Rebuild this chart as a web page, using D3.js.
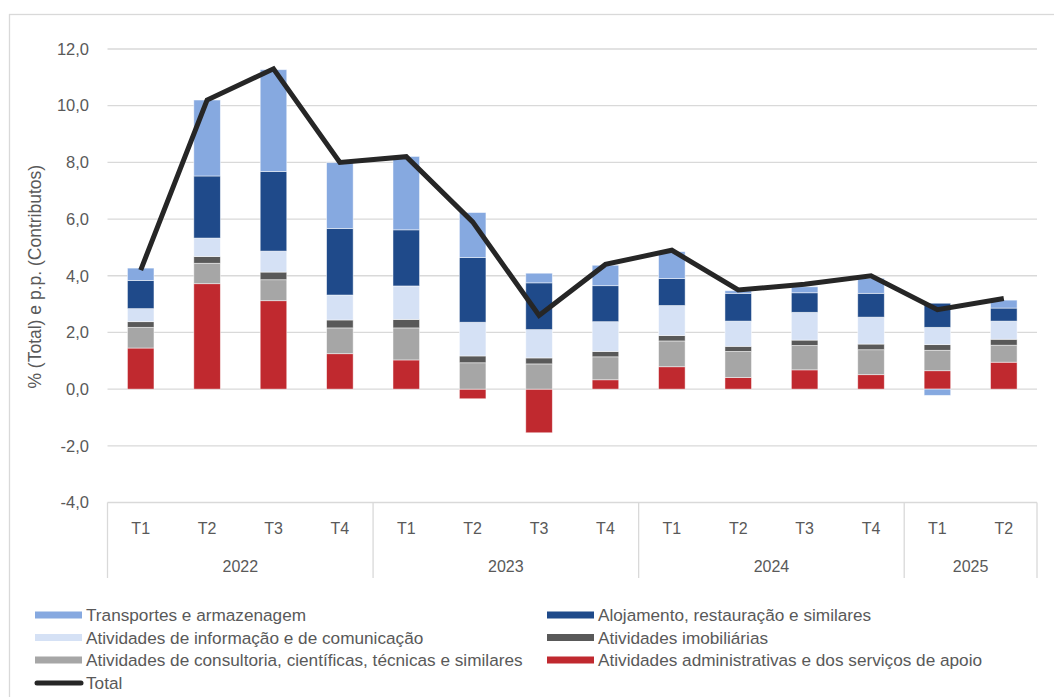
<html>
<meta charset="utf-8">
<style>
body { margin: 0; background: #fff; }
text { font-family: "Liberation Sans", Arial, sans-serif; fill: #595959; }
.grid line { stroke: #d9d9d9; stroke-width: 1.3px; }
.line { fill: none; stroke: #262626; stroke-width: 5px; stroke-linejoin: miter; }
</style>
<body>
<script src="https://d3js.org/d3.v7.min.js"></script>
<script>

// quarters and years on the category axis
var quarters = ["T1","T2","T3","T4","T1","T2","T3","T4","T1","T2","T3","T4","T1","T2"];
var years = ["2022","2023","2024","2025"];
var yearSpan = [4, 4, 4, 2];

// contributions (p.p.)
var admin   = [1.45, 3.72, 3.12, 1.25, 1.03, -0.34, -1.54, 0.33, 0.79, 0.41, 0.68, 0.51, 0.65, 0.95];
var consult = [0.73, 0.72, 0.74, 0.91, 1.13, 0.93, 0.89, 0.81, 0.91, 0.92, 0.86, 0.88, 0.72, 0.60];
var imob    = [0.20, 0.24, 0.27, 0.28, 0.30, 0.24, 0.21, 0.19, 0.19, 0.18, 0.19, 0.20, 0.20, 0.21];
var info    = [0.46, 0.65, 0.74, 0.88, 1.18, 1.19, 1.00, 1.05, 1.06, 0.89, 0.98, 0.95, 0.61, 0.64];
var aloj    = [0.99, 2.19, 2.81, 2.35, 1.98, 2.28, 1.65, 1.27, 0.95, 0.98, 0.69, 0.84, 0.85, 0.46];
var transp  = [0.44, 2.68, 3.59, 2.32, 2.59, 1.59, 0.34, 0.72, 0.95, 0.09, 0.21, 0.53, -0.22, 0.28];

// total (%)
var total = [4.2, 10.2, 11.3, 8.0, 8.2, 5.9, 2.6, 4.4, 4.9, 3.5, 3.7, 4.0, 2.8, 3.2];

var yTicks = [-4, -2, 0, 2, 4, 6, 8, 10, 12];

// series, bottom to top of the stack
var series = [
  {key: "admin",   name: "Atividades administrativas e dos serviços de apoio", color: "#c0292f", values: admin},
  {key: "consult", name: "Atividades de consultoria, científicas, técnicas e similares", color: "#a6a6a6", values: consult},
  {key: "imob",    name: "Atividades imobiliárias", color: "#595959", values: imob},
  {key: "info",    name: "Atividades de informação e de comunicação", color: "#d5e1f5", values: info},
  {key: "aloj",    name: "Alojamento, restauração e similares", color: "#1f4a8a", values: aloj},
  {key: "transp",  name: "Transportes e armazenagem", color: "#86a9e0", values: transp}
];
var colorOf = {};
series.forEach(function(s) { colorOf[s.key] = s.color; });

// build rows for d3.stack
var rows = quarters.map(function(q, i) {
  var r = {i: i};
  series.forEach(function(s) { r[s.key] = s.values[i]; });
  return r;
});

var W = 1054, H = 697;
var plot = {left: 107.5, right: 1037, top: 49, bottom: 502.5};

var svg = d3.select("body").append("svg")
    .attr("width", W)
    .attr("height", H);

// chart border
svg.append("rect")
    .attr("x", 9.5).attr("y", 14.5)
    .attr("width", 1050).attr("height", 700)
    .attr("fill", "none").attr("stroke", "#d9d9d9").attr("stroke-width", 1.3);

var x = d3.scaleBand()
    .domain(d3.range(quarters.length))
    .range([plot.left, plot.right]);

var y = d3.scaleLinear()
    .domain([-4, 12])
    .range([plot.bottom, plot.top]);

// gridlines
svg.append("g").attr("class", "grid")
  .selectAll("line").data(yTicks).enter().append("line")
    .attr("x1", plot.left).attr("x2", plot.right)
    .attr("y1", function(d) { return y(d); })
    .attr("y2", function(d) { return y(d); });

// y tick labels
var fmt = function(d) { return d3.format(".1f")(d).replace(".", ",").replace("−", "-"); };
svg.append("g").selectAll("text").data(yTicks).enter().append("text")
    .attr("x", 89)
    .attr("y", function(d) { return y(d); })
    .attr("dy", "0.35em")
    .attr("text-anchor", "end")
    .style("font-size", "16.5px")
    .text(fmt);

// y title
svg.append("text")
    .attr("transform", "translate(41," + ((plot.top + plot.bottom) / 2 + 1) + ") rotate(-90)")
    .attr("text-anchor", "middle")
    .style("font-size", "17.5px")
    .text("% (Total) e p.p. (Contributos)");

// stacked bars
var stack = d3.stack()
    .keys(series.map(function(s) { return s.key; }))
    .offset(d3.stackOffsetDiverging);
var stacked = stack(rows);

var bw = x.bandwidth() * 0.4;
svg.append("g").selectAll("g").data(stacked).enter().append("g")
    .attr("fill", function(d) { return colorOf[d.key]; })
  .selectAll("rect").data(function(d) { return d; }).enter().append("rect")
    .attr("x", function(d) { return x(d.data.i) + (x.bandwidth() - bw) / 2; })
    .attr("width", bw)
    .attr("y", function(d) { return y(Math.max(d[0], d[1])); })
    .attr("height", function(d) { return Math.abs(y(d[0]) - y(d[1])); })
    .attr("stroke", "#ffffff")
    .attr("stroke-opacity", 0.6)
    .attr("stroke-width", 0.8);

// total line
var valueline = d3.line()
    .x(function(d, i) { return x(i) + x.bandwidth() / 2; })
    .y(function(d) { return y(d); });

svg.append("path")
    .data([total])
    .attr("class", "line")
    .attr("d", valueline);

// category axis: quarter labels
var axisG = svg.append("g");
axisG.selectAll("text.q").data(quarters).enter().append("text")
    .attr("class", "q")
    .attr("x", function(d, i) { return x(i) + x.bandwidth() / 2; })
    .attr("y", 528)
    .attr("dy", "0.35em")
    .attr("text-anchor", "middle")
    .style("font-size", "16px")
    .text(function(d) { return d; });

// year groups
var start = 0;
var bounds = [0];
yearSpan.forEach(function(n) { start += n; bounds.push(start); });

axisG.selectAll("line.sep").data(bounds).enter().append("line")
    .attr("class", "sep")
    .attr("x1", function(b) { return b < quarters.length ? x(b) : plot.right; })
    .attr("x2", function(b) { return b < quarters.length ? x(b) : plot.right; })
    .attr("y1", plot.bottom)
    .attr("y2", 578)
    .attr("stroke", "#d9d9d9")
    .attr("stroke-width", 1.3);

axisG.selectAll("text.yr").data(years).enter().append("text")
    .attr("class", "yr")
    .attr("x", function(d, i) {
      var a = x(bounds[i]);
      var b = bounds[i + 1] < quarters.length ? x(bounds[i + 1]) : plot.right;
      return (a + b) / 2;
    })
    .attr("y", 566)
    .attr("dy", "0.35em")
    .attr("text-anchor", "middle")
    .style("font-size", "16px")
    .text(function(d) { return d; });

// legend
var legendItems = [
  {name: series[5].name, color: series[5].color, col: 0, row: 0},
  {name: series[4].name, color: series[4].color, col: 1, row: 0},
  {name: series[3].name, color: series[3].color, col: 0, row: 1},
  {name: series[2].name, color: series[2].color, col: 1, row: 1},
  {name: series[1].name, color: series[1].color, col: 0, row: 2},
  {name: series[0].name, color: series[0].color, col: 1, row: 2}
];
var colX = [35, 547];
var rowY = [615, 637.5, 660, 683];

var leg = svg.append("g");
var li = leg.selectAll("g").data(legendItems).enter().append("g")
    .attr("transform", function(d) { return "translate(" + colX[d.col] + "," + rowY[d.row] + ")"; });
li.append("rect")
    .attr("x", 0).attr("y", -3.5)
    .attr("width", 47).attr("height", 7)
    .attr("fill", function(d) { return d.color; });
li.append("text")
    .attr("x", 51)
    .attr("dy", "0.35em")
    .style("font-size", "17.2px")
    .text(function(d) { return d.name; });

var lt = leg.append("g").attr("transform", "translate(35," + rowY[3] + ")");
lt.append("line")
    .attr("x1", 2).attr("x2", 46)
    .attr("stroke", "#262626").attr("stroke-width", 5)
    .attr("stroke-linecap", "round");
lt.append("text")
    .attr("x", 51)
    .attr("dy", "0.35em")
    .style("font-size", "17.2px")
    .text("Total");

</script>
</body>
</html>
